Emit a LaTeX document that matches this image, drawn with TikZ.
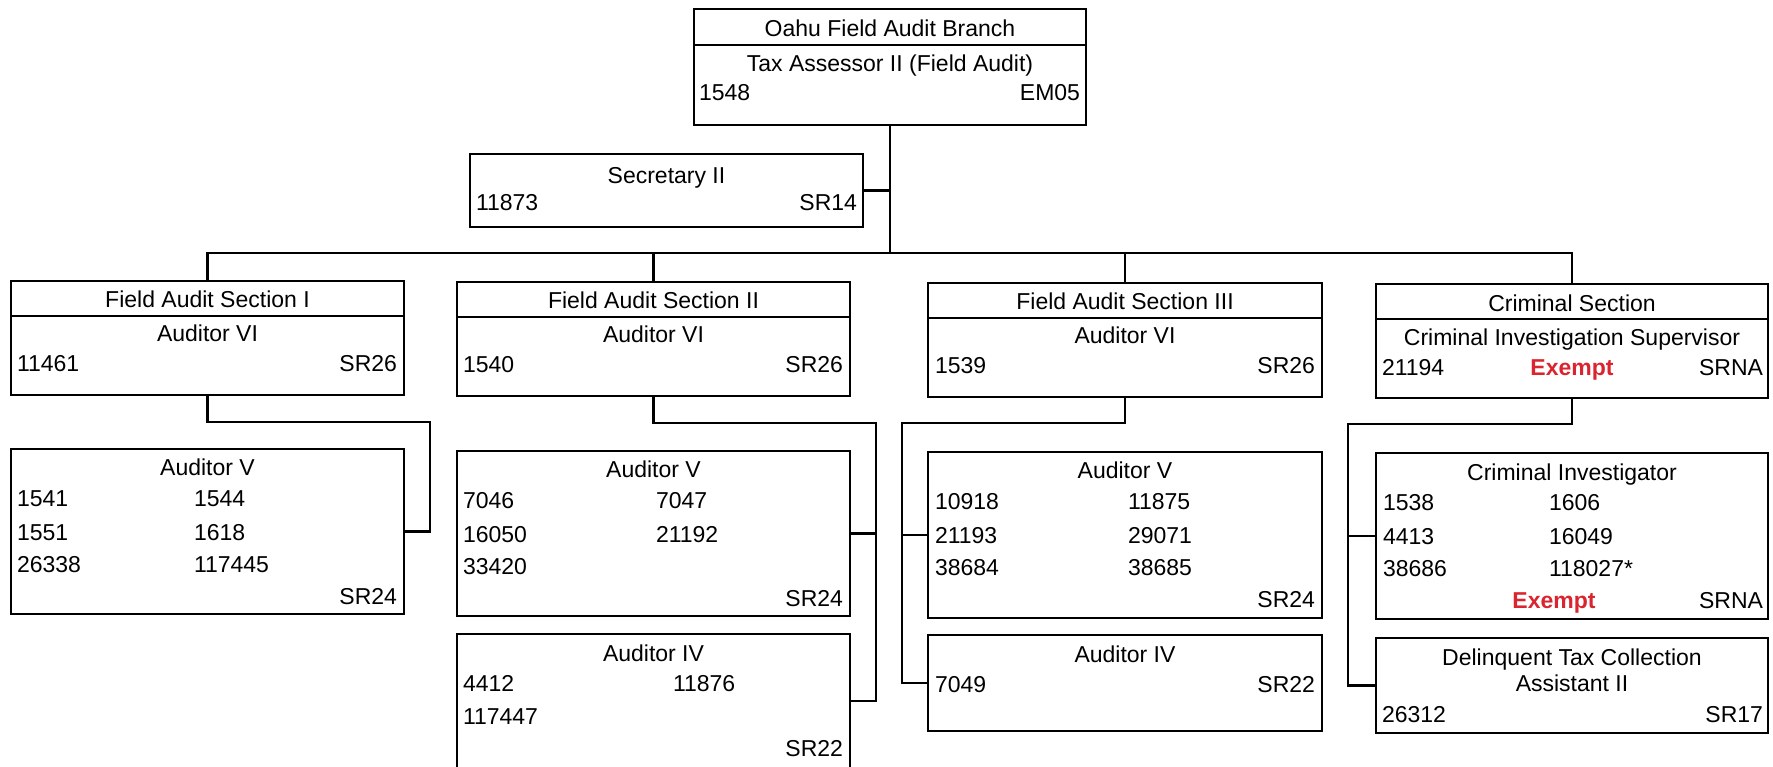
\documentclass[tikz,border=0pt]{standalone}
\usepackage{fontspec}
\setmainfont{Liberation Sans}
\usetikzlibrary{calc}
\definecolor{exred}{RGB}{218,37,48}
\begin{document}
\begin{tikzpicture}[x=1pt,y=-1pt,
  box/.style={draw, line width=2.6pt, inner sep=0pt, outer sep=0pt},
  wire/.style={line width=2.6pt},
  txt/.style={inner sep=0pt, outer sep=0pt, font=\fontsize{23}{27}\selectfont},
  txL/.style={txt, anchor=base west},
  txR/.style={txt, anchor=base east},
  txC/.style={txt, anchor=base},
  txEx/.style={txt, anchor=base, text=exred, font=\fontsize{23}{27}\selectfont\bfseries}]
\useasboundingbox (0,0) rectangle (1773,766);
\clip (0,0) rectangle (1773,766);

% ---------- boxes ----------
\node[box, minimum width=392pt, minimum height=116pt] (top) at (890,67) {};
\node[box, minimum width=393pt, minimum height=73pt] (sec) at (666.5,190.5) {};
\node[box, minimum width=393pt, minimum height=114pt] (S1) at (207.5,338) {};
\node[box, minimum width=393pt, minimum height=114pt] (S2) at (653.5,339) {};
\node[box, minimum width=394pt, minimum height=114pt] (S3) at (1125,340) {};
\node[box, minimum width=392pt, minimum height=114pt] (C) at (1572,341) {};
\node[box, minimum width=393pt, minimum height=165pt] (A1V) at (207.5,531.5) {};
\node[box, minimum width=393pt, minimum height=165pt] (A2V) at (653.5,533.5) {};
\node[box, minimum width=393pt, minimum height=134pt] (A2IV) at (653.5,701) {};
\node[box, minimum width=394pt, minimum height=166pt] (A3V) at (1125,535) {};
\node[box, minimum width=394pt, minimum height=96pt] (A3IV) at (1125,683) {};
\node[box, minimum width=392pt, minimum height=166pt] (CI) at (1572,536) {};
\node[box, minimum width=392pt, minimum height=95pt] (DT) at (1572,685.5) {};

% ---------- dividers ----------
\draw[wire] ($(top.north west)+(0,36)$) -- ($(top.north east)+(0,36)$);
\foreach \b in {S1,S2,S3,C}
  \draw[wire] ($(\b.north west)+(0,35)$) -- ($(\b.north east)+(0,35)$);

% ---------- connectors ----------
\coordinate (bus) at (890,253);
\draw[wire] (top.south) -- (bus);
\draw[wire] (sec.east) -- (sec.east -| top.south);
\draw[wire] (S1.north) |- (bus) -| (C.north);
\draw[wire] (S2.north) -- (S2.north |- bus);
\draw[wire] (S3.north) -- (S3.north |- bus);

\coordinate (j1) at (430,422);
\draw[wire] (S1.south) |- (j1) |- (A1V.east);
\coordinate (j2) at (876,423);
\draw[wire] (S2.south) |- (j2) |- (A2IV.east);
\draw[wire] (A2V.east) -- (A2V.east -| j2);
\coordinate (j3) at (902,423);
\draw[wire] (S3.south) |- (j3) |- (A3IV.west);
\draw[wire] (A3V.west) -- (A3V.west -| j3);
\coordinate (j4) at (1348,424);
\draw[wire] (C.south) |- (j4) |- (DT.west);
\draw[wire] (CI.west) -- (CI.west -| j4);

% ---------- top ----------
\node[txC] (topT) at ($(top.north)+(0,27)$) {Oahu Field Audit Branch};
\node[txC] (topR) at ($(top.north)+(0,62)$) {Tax Assessor II (Field Audit)};
\node[txL] (topN) at ($(top.north west)+(5,91)$) {1548};
\node[txR] (topG) at ($(top.north east)+(-6,91)$) {EM05};

% ---------- secretary ----------
\node[txC] (secR) at ($(sec.north)+(0,29)$) {Secretary II};
\node[txL] (secN) at ($(sec.north west)+(6,56)$) {11873};
\node[txR] (secG) at ($(sec.north east)+(-6,56)$) {SR14};

% ---------- section I ----------
\node[txC] (s1T) at ($(S1.north)+(0,26)$) {Field Audit Section I};
\node[txC] (s1R) at ($(S1.north)+(0,60)$) {Auditor VI};
\node[txL] (s1N) at ($(S1.north west)+(6,90)$) {11461};
\node[txR] (s1G) at ($(S1.north east)+(-7,90)$) {SR26};

\node[txC] (a1R) at ($(A1V.north)+(0,26)$) {Auditor V};
\node[txL] (a1a) at ($(A1V.north west)+(6,57)$) {1541};
\node[txL] (a1b) at ($(A1V.north west)+(183,57)$) {1544};
\node[txL] (a1c) at ($(A1V.north west)+(6,91)$) {1551};
\node[txL] (a1d) at ($(A1V.north west)+(183,91)$) {1618};
\node[txL] (a1e) at ($(A1V.north west)+(6,123)$) {26338};
\node[txL] (a1f) at ($(A1V.north west)+(183,123)$) {117445};
\node[txR] (a1G) at ($(A1V.north east)+(-7,155)$) {SR24};

% ---------- section II ----------
\node[txC] (s2T) at ($(S2.north)+(0,26)$) {Field Audit Section II};
\node[txC] (s2R) at ($(S2.north)+(0,60)$) {Auditor VI};
\node[txL] (s2N) at ($(S2.north west)+(6,90)$) {1540};
\node[txR] (s2G) at ($(S2.north east)+(-7,90)$) {SR26};

\node[txC] (a2R) at ($(A2V.north)+(0,26)$) {Auditor V};
\node[txL] (a2a) at ($(A2V.north west)+(6,57)$) {7046};
\node[txL] (a2b) at ($(A2V.north west)+(199,57)$) {7047};
\node[txL] (a2c) at ($(A2V.north west)+(6,91)$) {16050};
\node[txL] (a2d) at ($(A2V.north west)+(199,91)$) {21192};
\node[txL] (a2e) at ($(A2V.north west)+(6,123)$) {33420};
\node[txR] (a2G) at ($(A2V.north east)+(-7,155)$) {SR24};

\node[txC] (b2R) at ($(A2IV.north)+(0,27)$) {Auditor IV};
\node[txL] (b2a) at ($(A2IV.north west)+(6,57)$) {4412};
\node[txL] (b2b) at ($(A2IV.north west)+(216,57)$) {11876};
\node[txL] (b2c) at ($(A2IV.north west)+(6,90)$) {117447};
\node[txR] (b2G) at ($(A2IV.north east)+(-7,122)$) {SR22};

% ---------- section III ----------
\node[txC] (s3T) at ($(S3.north)+(0,26)$) {Field Audit Section III};
\node[txC] (s3R) at ($(S3.north)+(0,60)$) {Auditor VI};
\node[txL] (s3N) at ($(S3.north west)+(7,90)$) {1539};
\node[txR] (s3G) at ($(S3.north east)+(-7,90)$) {SR26};

\node[txC] (a3R) at ($(A3V.north)+(0,26)$) {Auditor V};
\node[txL] (a3a) at ($(A3V.north west)+(7,57)$) {10918};
\node[txL] (a3b) at ($(A3V.north west)+(200,57)$) {11875};
\node[txL] (a3c) at ($(A3V.north west)+(7,91)$) {21193};
\node[txL] (a3d) at ($(A3V.north west)+(200,91)$) {29071};
\node[txL] (a3e) at ($(A3V.north west)+(7,123)$) {38684};
\node[txL] (a3f) at ($(A3V.north west)+(200,123)$) {38685};
\node[txR] (a3G) at ($(A3V.north east)+(-7,155)$) {SR24};

\node[txC] (b3R) at ($(A3IV.north)+(0,27)$) {Auditor IV};
\node[txL] (b3a) at ($(A3IV.north west)+(7,57)$) {7049};
\node[txR] (b3G) at ($(A3IV.north east)+(-7,57)$) {SR22};

% ---------- criminal ----------
\node[txC] (cT) at ($(C.north)+(0,27)$) {Criminal Section};
\node[txC] (cR) at ($(C.north)+(0,61)$) {Criminal Investigation Supervisor};
\node[txL] (cN) at ($(C.north west)+(6,91)$) {21194};
\node[txEx] (cE) at ($(C.north)+(0,91)$) {Exempt};
\node[txR] (cG) at ($(C.north east)+(-5,91)$) {SRNA};

\node[txC] (ciR) at ($(CI.north)+(0,27)$) {Criminal Investigator};
\node[txL] (cia) at ($(CI.north west)+(7,57)$) {1538};
\node[txL] (cib) at ($(CI.north west)+(173,57)$) {1606};
\node[txL] (cic) at ($(CI.north west)+(7,91)$) {4413};
\node[txL] (cid) at ($(CI.north west)+(173,91)$) {16049};
\node[txL] (cie) at ($(CI.north west)+(7,123)$) {38686};
\node[txL] (cif) at ($(CI.north west)+(173,123)$) {118027*};
\node[txEx] (ciE) at ($(CI.north)+(-18,155)$) {Exempt};
\node[txR] (ciG) at ($(CI.north east)+(-5,155)$) {SRNA};

\node[txC] (dtR1) at ($(DT.north)+(0,27)$) {Delinquent Tax Collection};
\node[txC] (dtR2) at ($(DT.north)+(0,53)$) {Assistant II};
\node[txL] (dtN) at ($(DT.north west)+(6,84)$) {26312};
\node[txR] (dtG) at ($(DT.north east)+(-5,84)$) {SR17};
\end{tikzpicture}
\end{document}
